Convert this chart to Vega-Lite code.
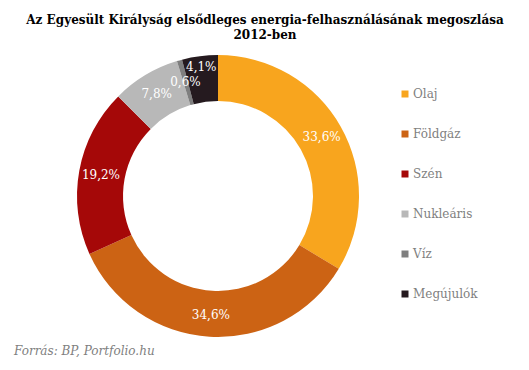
{
  "$schema": "https://vega.github.io/schema/vega-lite/v6.json",
  "padding": {"left": 14, "top": 14, "right": 0, "bottom": 0},
  "background": "white",
  "title": {
    "text": ["Az Egyesült Királyság elsődleges energia-felhasználásának megoszlása", "2012-ben"],
    "font": "DejaVu Serif",
    "fontSize": 12,
    "fontWeight": "bold",
    "color": "#000000",
    "anchor": "start",
    "align": "center",
    "dx": 251,
    "lineHeight": 15,
    "offset": 8
  },
  "vconcat": [
    {
      "width": 408,
      "height": 292,
      "title": {
        "text": "Forrás: BP, Portfolio.hu",
        "orient": "bottom",
        "anchor": "start",
        "font": "DejaVu Serif",
        "fontStyle": "italic",
        "fontWeight": "normal",
        "fontSize": 12,
        "color": "#7f7f7f",
        "offset": 4
      },
      "data": {
        "values": [
          {"i": 1, "cat": "Olaj", "v": 33.6, "label": "33,6%"},
          {"i": 2, "cat": "Földgáz", "v": 34.6, "label": "34,6%"},
          {"i": 3, "cat": "Szén", "v": 19.2, "label": "19,2%"},
          {"i": 4, "cat": "Nukleáris", "v": 7.8, "label": "7,8%"},
          {"i": 5, "cat": "Víz", "v": 0.6, "label": "0,6%"},
          {"i": 6, "cat": "Megújulók", "v": 4.1, "label": "4,1%"}
        ]
      },
      "encoding": {
        "theta": {"field": "v", "type": "quantitative", "stack": true},
        "order": {"field": "i", "type": "quantitative"}
      },
      "layer": [
        {
          "mark": {"type": "arc", "outerRadius": 141, "innerRadius": 95},
          "encoding": {
            "color": {
              "field": "cat",
              "type": "nominal",
              "sort": null,
              "scale": {
                "domain": ["Olaj", "Földgáz", "Szén", "Nukleáris", "Víz", "Megújulók"],
                "range": ["#F8A51E", "#CC6314", "#A50808", "#B8B8B8", "#7F7F7F", "#251A1F"]
              },
              "legend": {
                "title": null,
                "orient": "none",
                "legendX": 385,
                "legendY": 38,
                "symbolType": "square",
                "symbolSize": 49,
                "symbolStrokeWidth": 0,
                "labelFont": "DejaVu Serif",
                "labelFontSize": 12,
                "labelColor": "#7f7f7f",
                "labelOffset": 2,
                "rowPadding": 28
              }
            }
          }
        },
        {
          "mark": {
            "type": "text",
            "radius": {"expr": "datum.cat == 'Megújulók' ? 130 : 119"},
            "color": "white",
            "font": "DejaVu Serif",
            "fontSize": 12
          },
          "encoding": {"text": {"field": "label", "type": "nominal"}}
        }
      ]
    }
  ],
  "config": {"view": {"stroke": null}}
}
